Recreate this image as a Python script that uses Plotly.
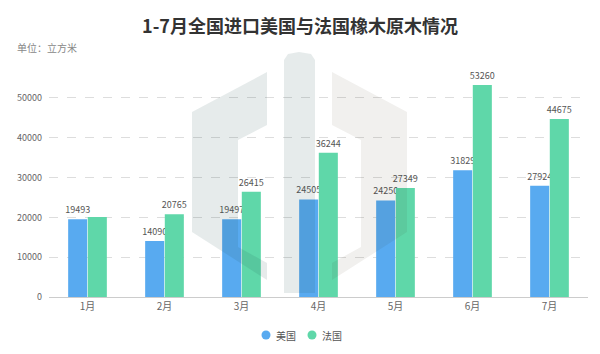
import plotly.graph_objects as go

months = ["1月", "2月", "3月", "4月", "5月", "6月", "7月"]
usa = [19493, 14090, 19497, 24505, 24250, 31829, 27924]
france = [20100, 20765, 26415, 36244, 27349, 53260, 44675]
france_labels = ["", "20765", "26415", "36244", "27349", "53260", "44675"]
usa_labels = [str(v) for v in usa]
series_names = ["美国", "法国"]

BLUE = "#58aaf0"
GREEN = "#5fd7a9"
FONT = "Noto Sans CJK SC"

fig = go.Figure()
fig.add_trace(go.Bar(x=months, y=usa, name=series_names[0], marker=dict(color=BLUE, line=dict(width=0)),
                     text=usa_labels, textposition="outside", constraintext="none",
                     cliponaxis=False, textfont=dict(size=9, color="#555", family=FONT),
                     showlegend=False))
fig.add_trace(go.Bar(x=months, y=france, name=series_names[1], marker=dict(color=GREEN, line=dict(width=0)),
                     text=france_labels, textposition="outside", constraintext="none",
                     cliponaxis=False, textfont=dict(size=9, color="#555", family=FONT),
                     showlegend=False))

# plot area in pixels
L, R, T, B = 49, 588, 70, 297
def px(x):
    return (x - L) / (R - L)
def py(y):
    return (B - y) / (B - T)
def path(pts):
    return "M " + " L ".join(f"{px(x):.4f},{py(y):.4f}" for x, y in pts) + " Z"

shapes = []
# watermark logo (left bracket, center bar, right bracket)
left = [(267, 72), (192, 112), (192, 232), (267, 280), (267, 263), (238, 247), (238, 140), (267, 125)]
cx = 299.5
right = [(2 * cx - x, y) for x, y in left]
center = [(284, 60), (288, 54), (299, 52), (311, 54), (315, 60), (315, 293), (284, 293)]
shapes.append(dict(type="path", xref="paper", yref="paper", path=path(left),
                   fillcolor="rgb(30,72,72)", opacity=0.11, line=dict(width=0), layer="above"))
shapes.append(dict(type="path", xref="paper", yref="paper", path=path(center),
                   fillcolor="rgb(30,72,72)", opacity=0.11, line=dict(width=0), layer="above"))
shapes.append(dict(type="path", xref="paper", yref="paper", path=path(right),
                   fillcolor="rgb(60,45,20)", opacity=0.07, line=dict(width=0), layer="above"))

annotations = [dict(text="单位：立方米", xref="paper", yref="paper", x=px(15), y=py(47),
                    xanchor="left", yanchor="middle", showarrow=False,
                    font=dict(size=10, color="#888"))]

# manual legend with circle markers
legend_y = 335
for name, color, cxp in zip(series_names, [BLUE, GREEN], [266, 312]):
    r = 4.5
    shapes.append(dict(type="circle", xref="paper", yref="paper",
                       x0=px(cxp - r), x1=px(cxp + r), y0=py(legend_y + r), y1=py(legend_y - r),
                       fillcolor=color, line=dict(width=0)))
    annotations.append(dict(text=name, xref="paper", yref="paper", x=px(cxp + 8), y=py(legend_y),
                            xanchor="left", yanchor="middle", showarrow=False,
                            font=dict(size=10, color="#555")))

fig.update_layout(
    width=600, height=354,
    margin=dict(l=L, r=600 - R, t=T, b=354 - B, autoexpand=False),
    paper_bgcolor="white", plot_bgcolor="white",
    font=dict(family=FONT, color="#666"),
    showlegend=False,
    title=dict(text="<b>1-7月全国进口美国与法国橡木原木情况</b>", x=0.5, xanchor="center",
               y=1 - 27 / 354, yanchor="middle", font=dict(size=18, color="#333", family=FONT)),
    barmode="group", bargap=0.49, bargroupgap=0.03,
    xaxis=dict(showline=True, linecolor="#ccc", linewidth=1, ticks="", showgrid=False,
               tickfont=dict(size=10, color="#666")),
    yaxis=dict(range=[0, 57000], dtick=10000, tickformat="d", showgrid=True, gridcolor="#ddd",
               griddash="dash", zeroline=False, showline=False, ticks="",
               tickfont=dict(size=9, color="#666"), ticklabelstandoff=6),
    shapes=shapes,
    annotations=annotations,
)
fig.write_html("out.html")
